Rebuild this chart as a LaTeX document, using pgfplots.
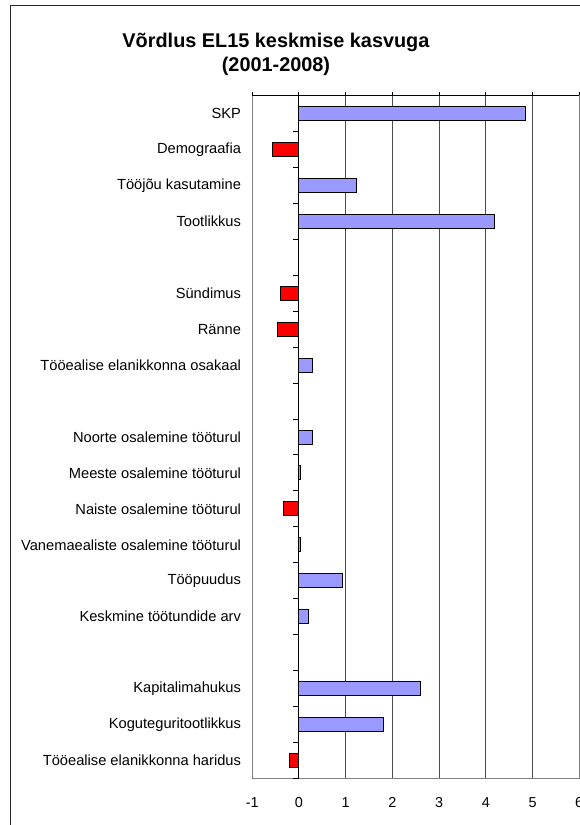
\documentclass[border=0pt]{standalone}
\usepackage{fontspec}
\setmainfont{Liberation Sans}
\usepackage{pgfplots}
\pgfplotsset{compat=1.18}
\definecolor{barblue}{HTML}{9999FF}
\definecolor{barred}{HTML}{FF0000}
\begin{document}
\begin{tikzpicture}
\useasboundingbox (-189.2pt,-34.9pt) rectangle (245.8pt,583.9pt);
\begin{scope}
\clip (-189.2pt,-34.9pt) rectangle (245.8pt,583.9pt);
\draw[line width=0.75pt, black!85] (-181pt,579.4pt) rectangle (300pt,-80pt);
\end{scope}
\node[anchor=base, font=\bfseries\fontsize{14.9}{16}\selectfont] at (17.8pt,548.6pt) {Võrdlus EL15 keskmise kasvuga};
\node[anchor=base, font=\bfseries\fontsize{14.9}{16}\selectfont] at (17.8pt,530.6pt) {(2001-2008)};
\begin{axis}[
  at={(0,0)}, anchor=south west,
  scale only axis,
  width=245.25pt, height=512.25pt,
  xmin=-1, xmax=6,
  ymin=-0.5, ymax=18.5,
  y dir=reverse,
  xtick={-1,0,1,2,3,4,5,6},
  xticklabels={-1,0,1,2,3,4,5,6},
  xtick pos=top,
  xticklabel pos=bottom,
  tick align=outside,
  major tick length=3pt,
  x tick style={black, line width=0.75pt},
  xticklabel style={font=\fontsize{10.8}{12}\selectfont, yshift=-8pt},
  ytick={0,...,18},
  yticklabels={SKP,Demograafia,Tööjõu kasutamine,Tootlikkus,{},Sündimus,Ränne,Tööealise elanikkonna osakaal,{},Noorte osalemine tööturul,Meeste osalemine tööturul,Naiste osalemine tööturul,Vanemaealiste osalemine tööturul,Tööpuudus,Keskmine töötundide arv,{},Kapitalimahukus,Koguteguritootlikkus,Tööealise elanikkonna haridus},
  y tick style={draw=none},
  yticklabel style={font=\fontsize{11}{12}\selectfont, inner sep=0pt, anchor=east, xshift=-5.25pt},
  xmajorgrids,
  major grid style={black!70, line width=0.75pt},
  axis line style={gray, line width=0.75pt},
  xbar, bar width=10.5pt, bar shift=0pt,
  clip=false,
]
\addplot[draw=black, line width=0.75pt, fill=barblue] coordinates {
  (4.86,0) (1.23,2) (4.18,3) (0.29,7) (0.28,9) (0.04,10) (0.04,12) (0.93,13) (0.20,14) (2.60,16) (1.81,17)
};
\addplot[draw=black, line width=0.75pt, fill=barred] coordinates {
  (-0.56,1) (-0.39,5) (-0.45,6) (-0.33,11) (-0.21,18)
};
\draw[black, line width=0.75pt] (rel axis cs:0,1) -- (rel axis cs:1,1);
\draw[black, line width=0.75pt] (axis cs:0,-0.5) -- (axis cs:0,18.5);
\pgfplotsinvokeforeach{-0.5,0.5,...,18.5}{
  \draw[black, line width=0.75pt] (axis cs:0,#1) -- ([xshift=-4.5pt]axis cs:0,#1);
}
\end{axis}
\end{tikzpicture}
\end{document}
